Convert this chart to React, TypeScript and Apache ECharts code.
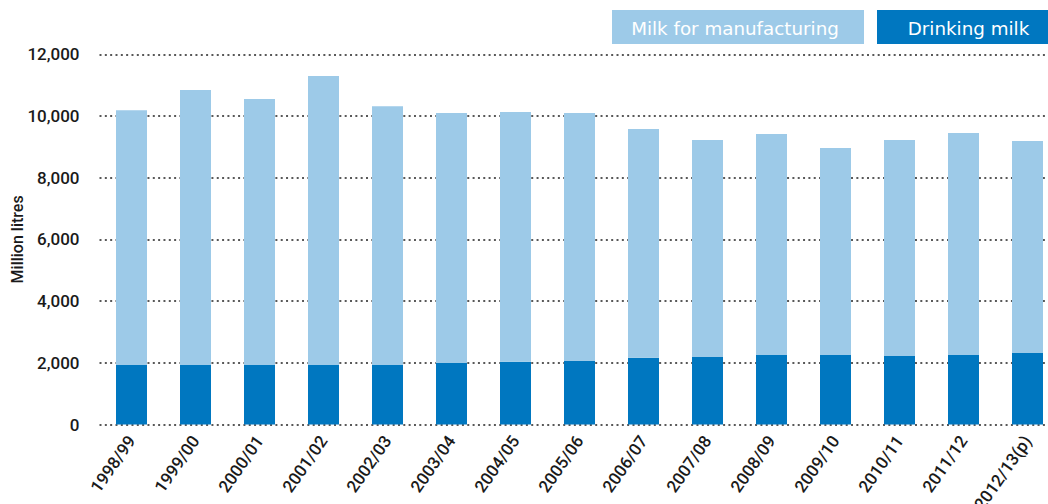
import React, { useEffect, useRef } from "react";
import * as echarts from "echarts";

const categories = [
  "1998/99", "1999/00", "2000/01", "2001/02", "2002/03", "2003/04", "2004/05",
  "2005/06", "2006/07", "2007/08", "2008/09", "2009/10", "2010/11", "2011/12", "2012/13(p)",
];
const drinkingMilk = [1930, 1930, 1930, 1930, 1930, 1990, 2030, 2060, 2160, 2190, 2250, 2250, 2220, 2250, 2320];
const milkForManufacturing = [8260, 8910, 8620, 9370, 8390, 8110, 8100, 8040, 7420, 7030, 7170, 6710, 7000, 7200, 6870];
const yMin = 0;
const yMax = 12000;
const yStep = 2000;

const LIGHT = "#9DCAE8";
const DARK = "#0077C0";
const FONT = "Roboto, 'Liberation Sans', Arial, sans-serif";

export default function App() {
  const ref = useRef<HTMLDivElement>(null);
  useEffect(() => {
    if (!ref.current) return;
    const chart = echarts.init(ref.current, undefined, { renderer: "svg" });
    chart.setOption({
      animation: false,
      grid: { left: 99.5, right: 10.5, top: 54.3, bottom: 79.5, outerBoundsMode: "none", containLabel: false },
      xAxis: {
        type: "category",
        data: categories,
        axisLine: { show: false },
        axisTick: { show: false },
        axisLabel: {
          rotate: 55,
          margin: 13,
          fontSize: 17,
          fontWeight: 500,
          color: "#1a1a1a",
          fontFamily: FONT,
          interval: 0,
          hideOverlap: false,
        },
      },
      yAxis: {
        type: "value",
        min: yMin,
        max: yMax,
        interval: yStep,
        name: "Million litres",
        nameLocation: "middle",
        nameRotate: 90,
        nameGap: 74,
        nameMoveOverlap: false,
        nameTextStyle: {
          fontSize: 16,
          fontWeight: 500,
          color: "#1a1a1a",
          fontFamily: FONT,
        },
        axisLine: { show: false },
        axisTick: { show: false },
        axisLabel: {
          margin: 20,
          fontSize: 17,
          fontWeight: 500,
          color: "#1a1a1a",
          fontFamily: FONT,
          formatter: (v: number) => v.toLocaleString("en-US"),
        },
        splitLine: {
          show: true,
          lineStyle: { type: [2, 3.33], width: 1.6, color: "#222" },
        },
      },
      series: [
        {
          name: "Drinking milk",
          type: "bar",
          stack: "total",
          barWidth: 31,
          data: drinkingMilk,
          itemStyle: { color: DARK },
        },
        {
          name: "Milk for manufacturing",
          type: "bar",
          stack: "total",
          barWidth: 31,
          data: milkForManufacturing,
          itemStyle: { color: LIGHT },
        },
      ],
      graphic: [
        { type: "rect", shape: { x: 612, y: 10, width: 252, height: 34 }, style: { fill: LIGHT } },
        { type: "rect", shape: { x: 877, y: 10, width: 200, height: 34 }, style: { fill: DARK } },
        {
          type: "text",
          x: 735,
          y: 28,
          style: {
            text: "Milk for manufacturing",
            fill: "#fff",
            fontSize: 18.3,
            fontFamily: "'DejaVu Sans', sans-serif",
            textAlign: "center",
            textVerticalAlign: "middle",
          },
        },
        {
          type: "text",
          x: 968.5,
          y: 28,
          style: {
            text: "Drinking milk",
            fill: "#fff",
            fontSize: 18.3,
            fontFamily: "'DejaVu Sans', sans-serif",
            textAlign: "center",
            textVerticalAlign: "middle",
          },
        },
      ],
    });
    return () => chart.dispose();
  }, []);
  return (
    <div style={{ position: "fixed", left: 0, top: 0, width: 1048, height: 504, overflow: "hidden", background: "#fff" }}>
      <div ref={ref} style={{ width: 1070, height: 504 }} />
    </div>
  );
}
